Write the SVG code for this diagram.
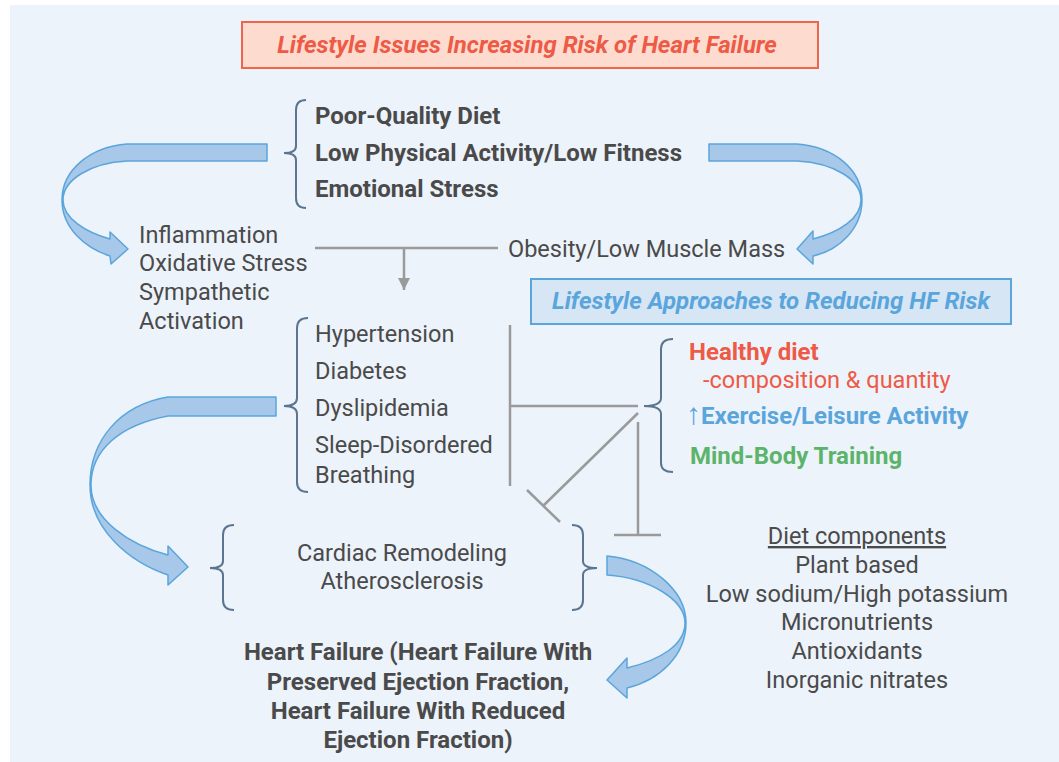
<svg xmlns="http://www.w3.org/2000/svg" width="1059" height="762" viewBox="0 0 1059 762">
<defs>
<style>
.t{font-family:Roboto,"Open Sans","Liberation Sans",sans-serif;font-size:23.5px;fill:#4A4A4A;font-weight:normal}
.b{font-weight:bold;font-size:24px}
.it{font-style:italic;font-weight:bold;font-size:24px}
.br{fill:none;stroke:#5B7590;stroke-width:2}
.ln{fill:none;stroke:#9A9A9A;stroke-width:2.5}
.ar{fill:#A7C8E8;stroke:#5AA5DC;stroke-width:1.5;stroke-linejoin:round}
</style>
<marker id="ah" viewBox="0 0 10 10" refX="10" refY="5" markerWidth="12" markerHeight="24" markerUnits="userSpaceOnUse" orient="auto">
<path d="M0,0 L10,5 L0,10 Z" fill="#9A9A9A"/>
</marker>
</defs>
<rect x="10" y="5" width="1049" height="757" fill="#ECF3FB"/>

<g id="title">
<rect x="242" y="22" width="576" height="46" fill="#FDDCCF" stroke="#F0644A" stroke-width="2"/>
<text class="t it" x="527" y="53" text-anchor="middle" style="fill:#EE5A45">Lifestyle Issues Increasing Risk of Heart Failure</text>
</g>

<g id="issues">
<path class="br" d="M306,100 Q296,100 296,110 L296,146 Q296,153 284,153 Q296,153 296,160 L296,198 Q296,208 306,208"/>
<text class="t b" x="315" y="124">Poor-Quality Diet</text>
<text class="t b" x="315" y="161">Low Physical Activity/Low Fitness</text>
<text class="t b" x="315" y="197">Emotional Stress</text>
</g>

<g id="inflammation">
<text class="t" x="139" y="243">Inflammation</text>
<text class="t" x="139" y="271">Oxidative Stress</text>
<text class="t" x="139" y="300">Sympathetic</text>
<text class="t" x="139" y="329">Activation</text>
</g>

<g id="obesity">
<text class="t" x="508" y="257">Obesity/Low Muscle Mass</text>
</g>

<g id="approaches">
<rect x="531" y="279" width="480" height="45" fill="#D6E6F5" stroke="#5AA5DC" stroke-width="2"/>
<text class="t it" x="771" y="309" text-anchor="middle" style="fill:#5AA5DC">Lifestyle Approaches to Reducing HF Risk</text>
</g>

<g id="conditions">
<path class="br" d="M308,318 Q297,318 297,328 L297,398 Q297,406 284,406 Q297,406 297,414 L297,482 Q297,492 308,492"/>
<text class="t" x="315" y="342">Hypertension</text>
<text class="t" x="315" y="379">Diabetes</text>
<text class="t" x="315" y="416">Dyslipidemia</text>
<text class="t" x="315" y="453">Sleep-Disordered</text>
<text class="t" x="315" y="483">Breathing</text>
</g>

<g id="interventions">
<path class="br" d="M673,339 Q661,339 661,349 L661,398 Q661,406 644,406 Q661,406 661,414 L661,463 Q661,472 673,472"/>
<text class="t b" x="689" y="360" style="fill:#EE5A45">Healthy diet</text>
<text class="t" x="703" y="388" style="fill:#EE5A45">-composition &amp; quantity</text>
<text class="t b" x="686" y="424" style="fill:#5AA5DC"><tspan style="font-size:30px;font-weight:normal">↑</tspan>Exercise/Leisure Activity</text>
<text class="t b" x="690" y="464" style="fill:#5CB36A">Mind-Body Training</text>
</g>

<g id="remodeling">
<path class="br" d="M234,525 Q223,525 223,535 L223,561 Q223,568 210,568 Q223,568 223,575 L223,600 Q223,610 234,610"/>
<path class="br" d="M572,525 Q583,525 583,535 L583,561 Q583,568 597,568 Q583,568 583,575 L583,600 Q583,610 572,610"/>
<text class="t" x="402" y="561" text-anchor="middle">Cardiac Remodeling</text>
<text class="t" x="402" y="589" text-anchor="middle">Atherosclerosis</text>
</g>

<g id="heartfailure">
<text class="t b" x="418" y="660" text-anchor="middle">Heart Failure (Heart Failure With</text>
<text class="t b" x="418" y="690" text-anchor="middle">Preserved Ejection Fraction,</text>
<text class="t b" x="418" y="719" text-anchor="middle">Heart Failure With Reduced</text>
<text class="t b" x="418" y="748" text-anchor="middle">Ejection Fraction)</text>
</g>

<g id="diet">
<text class="t" x="857" y="544" text-anchor="middle" text-decoration="underline">Diet components</text>
<text class="t" x="857" y="573" text-anchor="middle">Plant based</text>
<text class="t" x="857" y="602" text-anchor="middle">Low sodium/High potassium</text>
<text class="t" x="857" y="630" text-anchor="middle">Micronutrients</text>
<text class="t" x="857" y="659" text-anchor="middle">Antioxidants</text>
<text class="t" x="857" y="688" text-anchor="middle">Inorganic nitrates</text>
</g>

<g id="connectors">
<path class="ar" d="M267,144 L127,144 C90,147 62,170 62,200 C62,228 85,248 110,256 L111,264 L128,249 L110,232 L110,239 C85,232 63,218 63,200 C63,180 90,163 127,161 L267,161 Z"/>
<path class="ar" d="M709,144 L797,144 C835,147 862,170 862,200 C862,228 840,250 813,256 L813,264 L797,249 L813,231 L813,239 C840,232 861,218 861,200 C861,180 835,163 797,161 L709,161 Z"/>
<path class="ar" d="M276,397 L168,397 C120,405 90,440 90,485 C90,530 130,562 168,575 L168,585 L188,567 L168,546 L168,555 C130,545 91,520 91,485 C91,450 120,425 168,416 L276,416 Z"/>
<path class="ar" d="M607,556 C650,560 686,590 686,623 C686,655 660,680 627,688 L627,698 L607,680 L627,658 L627,668 C660,660 685,645 685,623 C685,600 650,578 607,575 Z"/>
<line class="ln" x1="315" y1="248" x2="498" y2="248"/>
<line class="ln" x1="404" y1="248" x2="404" y2="290" marker-end="url(#ah)"/>
<line class="ln" x1="510" y1="325" x2="510" y2="486"/>
<line class="ln" x1="510" y1="406" x2="638" y2="406"/>
<line class="ln" x1="638" y1="413" x2="543" y2="506"/>
<line class="ln" x1="527" y1="490" x2="560" y2="522"/>
<line class="ln" x1="638" y1="422" x2="638" y2="535"/>
<line class="ln" x1="614" y1="535" x2="661" y2="535"/>
</g>
</svg>
